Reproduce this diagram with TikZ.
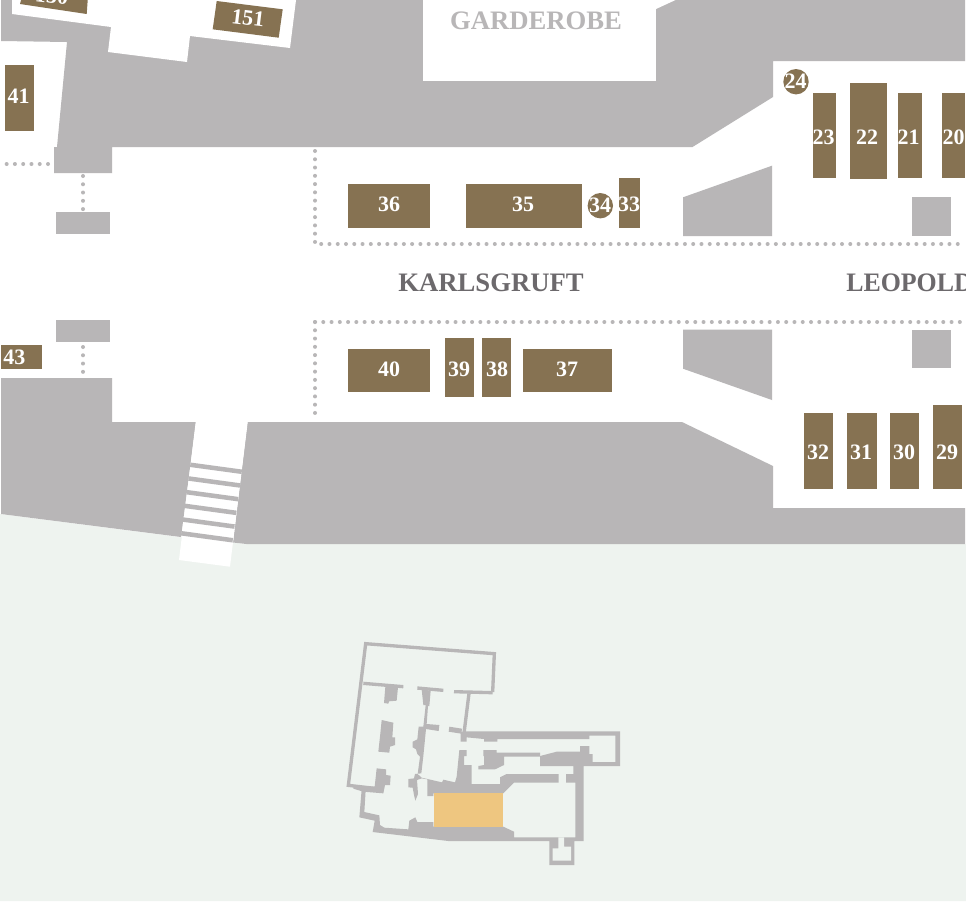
\documentclass[tikz,border=0pt]{standalone}
\usepackage{fontspec}
\setmainfont{Liberation Serif}
\definecolor{wall}{RGB}{184,182,183}
\definecolor{booth}{RGB}{134,114,82}
\definecolor{ground}{RGB}{238,243,239}
\definecolor{hl}{RGB}{238,198,128}
\definecolor{lab}{RGB}{108,105,108}
\tikzset{x=0.75pt,y=-0.75pt,
 boothnum/.style={text=white,font=\bfseries\fontsize{16.5}{16.5}\selectfont,inner sep=0pt},
 dots/.style={draw=wall,line width=3pt,line cap=round,dash pattern=on 0pt off 6.2pt},
 title/.style={text=lab,font=\bfseries\fontsize{20}{20}\selectfont,inner sep=0pt},
 keyline/.style={draw=wall,line width=2.5pt,line join=miter},
}
% corners, label centre, label, name
\newcommand{\boothbox}[8]{\fill[booth] (#1,#2) rectangle (#3,#4); \node[boothnum] (#8) at (#5,#6) {#7};}
\begin{document}
\begin{tikzpicture}
\useasboundingbox (0,0) rectangle (966,901);
\fill[white] (0,0) rectangle (966,901);
\fill[ground] (0,514) -- (179,537) -- (246,544) -- (966,544) -- (966,901) -- (0,901) -- cycle;
% main wall masses
\fill[wall] (1,0) -- (965,0) -- (965,61) -- (773,61) -- (773,97) -- (692.5,147) -- (112,147) -- (112,173) -- (54,173) -- (54,147) -- (57,147) -- (67,42) -- (1,41) -- cycle;
\fill[wall] (1,378) -- (112,378) -- (112,422) -- (196,422) -- (181,537) -- (1,514) -- cycle;
\fill[wall] (247.5,422) -- (682,422) -- (773,466) -- (773,508) -- (965,508) -- (965,544) -- (246.5,544) -- (233,542.5) -- cycle;
% white rooms cut out at the top
\fill[white] (12,14) -- (111,27) -- (108,52) -- (187,62) -- (190,36) -- (290,48) -- (296,0) -- (12,0) -- cycle;
\fill[white] (423,0) -- (656,0) -- (656,81) -- (423,81) -- cycle;
\fill[white] (656,9) -- (675.5,0) -- (656,0) -- cycle;
% stairs
\fill[white] (195.7,422) -- (247.7,422) -- (230,566.7) -- (179,560) -- cycle;
\foreach \i in {0,1,2,3,4,5} {
 \fill[wall] ({190.5-\i*1.8},{462.5+\i*13.7}) -- ({242-\i*1.8},{469.5+\i*13.7}) -- ({241.5-\i*1.8},{474+\i*13.7}) -- ({190-\i*1.8},{467+\i*13.7}) -- cycle;
}
% pillars
\fill[wall] (56,212) rectangle (109.5,234);
\fill[wall] (56,320) rectangle (109.5,342);
\fill[wall] (683,197.3) -- (772,165.7) -- (772,236) -- (683,236) -- cycle;
\fill[wall] (683,329.7) -- (772,329.7) -- (772,400) -- (683,368.7) -- cycle;
\fill[wall] (912,197.3) rectangle (950.7,236);
\fill[wall] (912,329.7) rectangle (950.7,368.3);
% dotted lines
\draw[dots] (48,164) -- (1,164);
\draw[dots] (83,176) -- (83,210);
\draw[dots] (83,347) -- (83,378);
\draw[dots] (315,151) -- (315,244) -- (965,244);
\draw[dots] (315,322) -- (965,322);
\draw[dots] (315,322) -- (315,418);
% labels
\node[title,text=wall] (garderobe) at (536,21) {GARDEROBE};
\node[title] (karlsgruft) at (491,283) {KARLSGRUFT};
\node[title,anchor=west,xscale=.97] (leopold) at (846,283) {LEOPOLD};
% booths
\fill[booth] (21,0) -- (87.7,0) -- (86.7,14) -- (20,4) -- cycle;
\node[boothnum,rotate=-7] (b150) at (52,-4) {150};
\fill[booth] (216.7,1) -- (282.7,9.3) -- (278.7,37.7) -- (212.7,29.3) -- cycle;
\node[boothnum,rotate=-7] (b151) at (248,18) {151};
\boothbox{5}{64.7}{34}{131.3}{18.5}{96}{41}{b41}
\boothbox{1}{345.3}{42.3}{369}{14.5}{357}{43}{b43}
\boothbox{348}{184.3}{430}{227.7}{389}{204.5}{36}{b36}
\boothbox{466.3}{184.3}{582}{227.7}{523}{204.5}{35}{b35}
\boothbox{618.7}{177.7}{639.7}{227.7}{629}{204.5}{33}{b33}
\fill[booth] (600.3,205.7) circle (12.7);
\node[boothnum] (b34) at (600,205) {34};
\fill[booth] (796,81.7) circle (12.7);
\node[boothnum] (b24) at (795.5,81) {24};
\boothbox{812.7}{93}{836}{177.7}{823.5}{137}{23}{b23}
\boothbox{850.3}{83}{887}{179}{867}{137}{22}{b22}
\boothbox{898.3}{93}{921.7}{177.7}{908.5}{137}{21}{b21}
\boothbox{942}{93}{965}{177.7}{953.5}{137}{20}{b20}
\boothbox{348}{348.7}{430}{392.3}{389}{369}{40}{b40}
\boothbox{445}{337.7}{474}{397}{459}{369}{39}{b39}
\boothbox{482.3}{337.7}{511.3}{397}{497}{369}{38}{b38}
\boothbox{522.7}{348.7}{611.7}{392.3}{567}{369}{37}{b37}
\boothbox{804}{413.3}{833.3}{489.3}{818}{452}{32}{b32}
\boothbox{847.3}{413.3}{876.7}{489.3}{861}{452}{31}{b31}
\boothbox{890}{413.3}{919}{489.3}{904}{452}{30}{b30}
\boothbox{933}{405}{962}{489.3}{947}{452}{29}{b29}
% key plan, in thirds of a pixel
\begin{scope}[x=0.25pt,y=-0.25pt,shift={(1020,1890)}]
 % top room, left wall
 \draw[keyline] (458,186) -- (463,71) -- (77,41) -- (25,466) -- (130,478);
 \draw[keyline] (70,160) -- (190,170);
 \draw[keyline] (232,174) -- (310,181);
 \draw[keyline] (342,185) -- (458,188);
 % pier from top wall
 \fill[wall] (136,170) -- (174,172) -- (170,212) -- (147,214) -- (145,221) -- (132,219) -- cycle;
 % centre column wall
 \fill[wall] (245,178) -- (272,182) -- (268,228) -- (264,228) -- (260,282) -- (298,285) -- (296,303) -- (258,297) -- (250,378) -- (244,430) -- (225,432) -- (222,445) -- (205,447) -- (205,472) -- (218,473) -- (222,495) -- (226,512) -- (234,492) -- (231,450) -- (245,445) -- (262,448) -- (262,498) -- (280,498) -- (280,490) -- (490,490) -- (522,458) -- (656,458) -- (656,432) -- (500,432) -- (480,442) -- (480,462) -- (395,462) -- (395,405) -- (372,405) -- (372,378) -- (380,378) -- (380,360) -- (358,360) -- (350,440) -- (345,457) -- (310,449) -- (306,457) -- (245,443) -- (233,432) -- (240,380) -- (232,372) -- (228,358) -- (218,352) -- (218,335) -- (232,328) -- (236,290) -- (250,290) -- (257,225) -- (250,225) -- cycle;
 \draw[keyline] (387,190) -- (372,310);
 \fill[wall] (328,290) -- (366,296) -- (364,311) -- (326,305) -- cycle;
 % outer shell: upper corridor, end room, east wall, south mass, south-west wall
 \fill[wall] (380,304) -- (840,304) -- (840,408) -- (731,408) -- (731,633) -- (703,633) -- (703,705) -- (628,705) -- (628,633) -- (325,633) -- (98,606) -- (104,572) -- (58,562) -- (65,478) -- (77,480) -- (73,546) -- (118,556) -- (120,585) -- (133,593) -- (205,598) -- (208,572) -- (226,562) -- (232,576) -- (280,576) -- (280,590) -- (490,590) -- (522,605) -- (522,622) -- (706,622) -- (706,458) -- (678,458) -- (678,432) -- (700,432) -- (700,408) -- (600,408) -- (600,378) -- (650,365) -- (720,365) -- (720,348) -- (748,348) -- (748,372) -- (758,372) -- (758,396) -- (826,396) -- (826,317) -- (748,317) -- (748,327) -- (472,327) -- (472,335) -- (432,335) -- (432,327) -- (380,322) -- (380,335) -- (362,335) -- (362,305) -- cycle;
 % bottom annex, inner room
 \fill[ground] (655,622) -- (655,655) -- (638,655) -- (638,692) -- (693,692) -- (693,650) -- (672,650) -- (672,622) -- cycle;
 % mass by the upper corridor
 \fill[wall] (430,360) -- (470,360) -- (470,368) -- (600,368) -- (600,380) -- (492,380) -- (492,405) -- (465,418) -- (415,418) -- (415,408) -- (432,405) -- (432,378) -- (430,378) -- cycle;
 % free piers
 \fill[wall] (125,270) -- (160,278) -- (157,322) -- (165,322) -- (165,345) -- (150,350) -- (148,368) -- (115,365) -- (120,320) -- cycle;
 \fill[wall] (110,415) -- (138,418) -- (138,435) -- (152,437) -- (150,465) -- (135,465) -- (130,490) -- (70,485) -- (40,476) -- (40,468) -- (104,470) -- cycle;
 % highlighted room
 \fill[hl] (281,490) rectangle (490,590);
\end{scope}
\end{tikzpicture}
\end{document}
